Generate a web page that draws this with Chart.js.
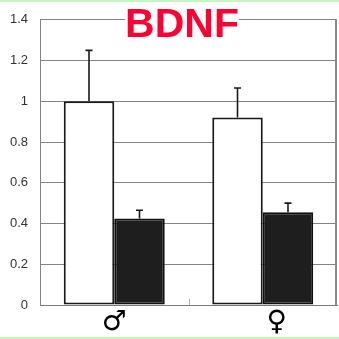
<!DOCTYPE html>
<html>
<head>
<meta charset="utf-8">
<script src="https://cdn.jsdelivr.net/npm/chart.js@4/dist/chart.umd.min.js"></script>
<style>
  html, body { margin: 0; padding: 0; background: #ffffff; }
  #wrap { width: 339px; height: 339px; position: relative; }
</style>
</head>
<body>
<div id="wrap"><canvas id="c" width="339" height="339"></canvas></div>
<script>
// Sex groups on the x axis
const categories = ['♂', '♀'];
// Mean relative BDNF level per group (white = first series, black = second series)
const seriesWhite = [1.0, 0.92];
const seriesBlack = [0.425, 0.455];
// Upper error bar size (SEM) for each bar
const errorWhite = [0.25, 0.145];
const errorBlack = [0.04, 0.045];
// Y axis ticks
const yTicks = [0, 0.2, 0.4, 0.6, 0.8, 1, 1.2, 1.4];
const chartTitle = 'BDNF';

const errors = [errorWhite, errorBlack];

// Page background with the thin green edge lines
const backdrop = {
  id: 'backdrop',
  beforeDraw(chart) {
    const ctx = chart.ctx;
    ctx.save();
    ctx.fillStyle = '#ffffff';
    ctx.fillRect(0, 0, chart.width, chart.height);
    ctx.fillStyle = '#c4f7c0';
    ctx.fillRect(0, 0, chart.width, 2);
    ctx.fillRect(0, chart.height - 2, chart.width, 2);
    ctx.restore();
  }
};

// Right edge of the plot frame and the separator tick between groups
const frame = {
  id: 'frame',
  beforeDatasetsDraw(chart) {
    const { ctx, chartArea } = chart;
    const x = chart.scales.x;
    ctx.save();
    ctx.strokeStyle = '#8a8a8a';
    ctx.lineWidth = 2;
    ctx.beginPath();
    ctx.moveTo(chartArea.right - 1, chartArea.top);
    ctx.lineTo(chartArea.right - 1, chartArea.bottom);
    ctx.stroke();
    ctx.strokeStyle = '#b0b0b0';
    ctx.lineWidth = 1;
    const mid = (x.getPixelForTick(0) + x.getPixelForTick(1)) / 2;
    ctx.beginPath();
    ctx.moveTo(Math.round(mid) + 0.5, chartArea.bottom);
    ctx.lineTo(Math.round(mid) + 0.5, chartArea.bottom - 6);
    ctx.stroke();
    ctx.restore();
  }
};

// Upper error bars with caps
const errorBars = {
  id: 'errorBars',
  afterDatasetsDraw(chart) {
    const { ctx } = chart;
    const y = chart.scales.y;
    ctx.save();
    ctx.strokeStyle = '#1a1a1a';
    ctx.lineWidth = 1.6;
    chart.data.datasets.forEach((ds, di) => {
      const meta = chart.getDatasetMeta(di);
      meta.data.forEach((el, i) => {
        const top = y.getPixelForValue(ds.data[i] + errors[di][i]);
        ctx.beginPath();
        ctx.moveTo(el.x, el.y);
        ctx.lineTo(el.x, top);
        ctx.moveTo(el.x - 3.5, top);
        ctx.lineTo(el.x + 3.5, top);
        ctx.stroke();
      });
    });
    ctx.restore();
  }
};

// Title box over the top of the plot
const titleBox = {
  id: 'titleBox',
  afterDraw(chart) {
    const ctx = chart.ctx;
    ctx.save();
    ctx.font = 'bold 41px "Liberation Sans", Arial, sans-serif';
    const w = ctx.measureText(chartTitle).width;
    const cx = 182;
    ctx.fillStyle = '#ffffff';
    ctx.fillRect(cx - w / 2, 6, w, 31);
    ctx.fillStyle = '#ff0033';
    ctx.textAlign = 'center';
    ctx.textBaseline = 'alphabetic';
    ctx.fillText(chartTitle, cx, 37);
    ctx.restore();
  }
};

new Chart(document.getElementById('c'), {
  type: 'bar',
  data: {
    labels: categories,
    datasets: [
      {
        label: 'Series 1',
        data: seriesWhite,
        backgroundColor: '#ffffff',
        borderColor: '#1a1a1a',
        borderWidth: 2,
        borderSkipped: false
      },
      {
        label: 'Series 2',
        data: seriesBlack,
        backgroundColor: '#1e1e1e',
        borderColor: '#111111',
        borderWidth: 2,
        borderSkipped: false
      }
    ]
  },
  plugins: [backdrop, frame, errorBars, titleBox],
  options: {
    responsive: false,
    animation: false,
    devicePixelRatio: 1,
    categoryPercentage: 0.68,
    barPercentage: 1.0,
    layout: { padding: { top: 16, right: 2, left: 0, bottom: 0 } },
    plugins: {
      legend: { display: false },
      title: { display: false },
      tooltip: { enabled: false }
    },
    scales: {
      x: {
        grid: { display: false, drawTicks: false },
        border: { display: true, color: '#7a7a7a', width: 1 },
        ticks: {
          color: '#000000',
          padding: 1,
          font: { family: '"DejaVu Sans", sans-serif', size: 28 },
          // the female label sits a little right of its group centre
          callback: (v, i) => (i === 1 ? '\u2002\u2002' : '') + categories[i]
        },
        afterFit(scale) { scale.height = 34; }
      },
      y: {
        min: 0,
        max: 1.4,
        afterBuildTicks(scale) { scale.ticks = yTicks.map(v => ({ value: v })); },
        grid: { color: '#858585', lineWidth: 1, drawTicks: false },
        border: { display: true, color: '#858585', width: 1 },
        ticks: {
          color: '#333333',
          padding: 12,
          font: { family: '"Liberation Sans", Arial, sans-serif', size: 13 },
          callback: v => String(+v.toFixed(1))
        },
        afterFit(scale) { scale.width = 40; }
      }
    }
  }
});
</script>
</body>
</html>
